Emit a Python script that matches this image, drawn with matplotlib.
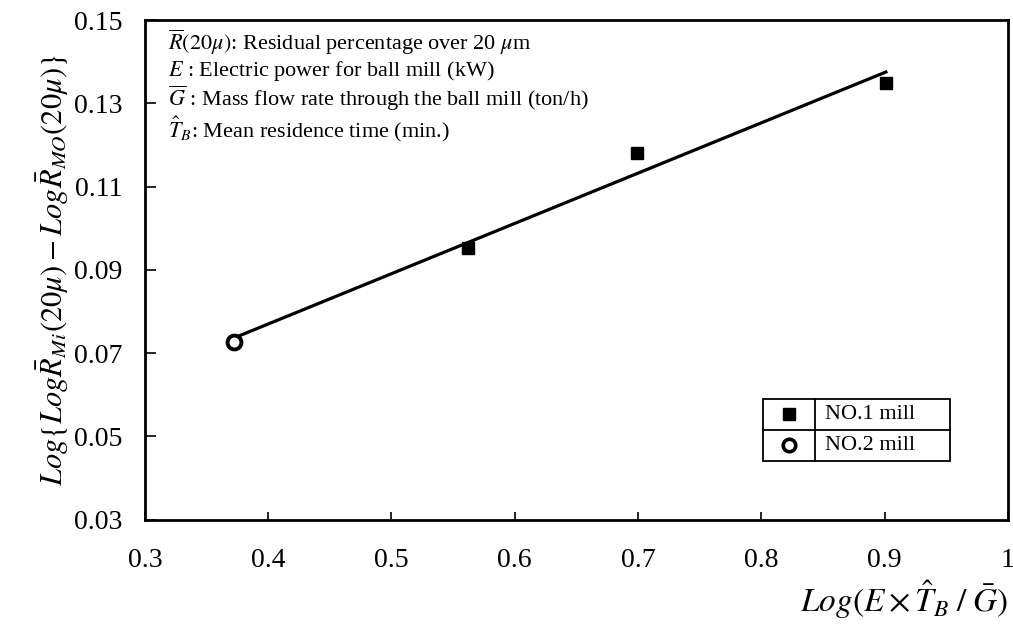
import numpy as np
import matplotlib
matplotlib.use("Agg")
import matplotlib.pyplot as plt
from matplotlib.patches import Rectangle
from matplotlib.lines import Line2D

plt.rcParams['font.family'] = ['Liberation Serif', 'DejaVu Serif']
plt.rcParams['mathtext.fontset'] = 'stix'

# data
mill1_x = [0.562, 0.699, 0.901]
mill1_y = [0.0953, 0.118, 0.135]
mill2_x = [0.372]
mill2_y = [0.0726]
legend_labels = ['NO.1 mill', 'NO.2 mill']
notes = [r'$\overline{R}(20\mu)$: Residual percentage over 20 $\mu$m',
         r'$\mathbf{\mathit{E}}$ : Electric power for ball mill (kW)',
         r'$\overline{G}$ : Mass flow rate through the ball mill (ton/h)',
         r'$\hat{T}_B$: Mean residence time (min.)']

fig = plt.figure(figsize=(10.13, 6.3), dpi=100)
ax = fig.add_axes([0.143, 0.175, 0.852, 0.793])

# regression line through all points
all_x = np.array(mill2_x + mill1_x)
all_y = np.array(mill2_y + mill1_y)
k, b = np.polyfit(all_x, all_y, 1)
xs = np.array([all_x.min(), all_x.max()])
ax.plot(xs, k * xs + b, color='black', lw=2.3, zorder=2)

ax.plot(mill1_x, mill1_y, 's', color='black', ms=8, zorder=3)
ax.plot(mill2_x, mill2_y, 'o', mfc='white', mec='black', mew=2.8, ms=10, zorder=3)

ax.set_xlim(0.3, 1.0)
ax.set_ylim(0.03, 0.15)
ax.set_xticks(np.arange(0.3, 1.01, 0.1))
ax.set_xticklabels(['0.3', '0.4', '0.5', '0.6', '0.7', '0.8', '0.9', '1'])
ax.set_yticks(np.arange(0.03, 0.151, 0.02))
ax.set_yticklabels(['0.03', '0.05', '0.07', '0.09', '0.11', '0.13', '0.15'])
ax.tick_params(axis='x', direction='in', length=6, width=1.2, labelsize=20, pad=20)
ax.tick_params(axis='y', direction='in', length=8, width=1.2, labelsize=20, pad=16)
for s in ax.spines.values():
    s.set_linewidth(2.0)

ax.set_ylabel(r'$Log\{Log\bar{R}_{Mi}(20\mu) - Log\bar{R}_{MO}(20\mu)\}$', fontsize=22, labelpad=2)
ax.set_xlabel(r'$Log(E\times\hat{T}_B\;/\;\bar{G})$', fontsize=24, loc='right', labelpad=4)

# note block in the upper left
note_y = [0.955, 0.899, 0.843, 0.782]
for t, y in zip(notes, note_y):
    ax.text(0.027, y, t, transform=ax.transAxes, fontsize=16, va='center', ha='left')

# table-like legend
x0, x1, xm = 0.716, 0.933, 0.776
y0, y1, ym = 0.118, 0.242, 0.180
ax.add_patch(Rectangle((x0, y0), x1 - x0, y1 - y0, transform=ax.transAxes,
                       fill=False, lw=1.3, ec='black', zorder=4))
ax.add_line(Line2D([x0, x1], [ym, ym], transform=ax.transAxes, color='black', lw=1.3))
ax.add_line(Line2D([xm, xm], [y0, y1], transform=ax.transAxes, color='black', lw=1.3))
ax.plot([(x0 + xm) / 2], [(ym + y1) / 2], 's', color='black', ms=8, transform=ax.transAxes)
ax.plot([(x0 + xm) / 2], [(y0 + ym) / 2], 'o', mfc='white', mec='black', mew=2.6, ms=9,
        transform=ax.transAxes)
ax.text(xm + 0.012, (ym + y1) / 2, legend_labels[0], transform=ax.transAxes, fontsize=16, va='center')
ax.text(xm + 0.012, (y0 + ym) / 2, legend_labels[1], transform=ax.transAxes, fontsize=16, va='center')

fig.savefig('out.png', dpi=100)
